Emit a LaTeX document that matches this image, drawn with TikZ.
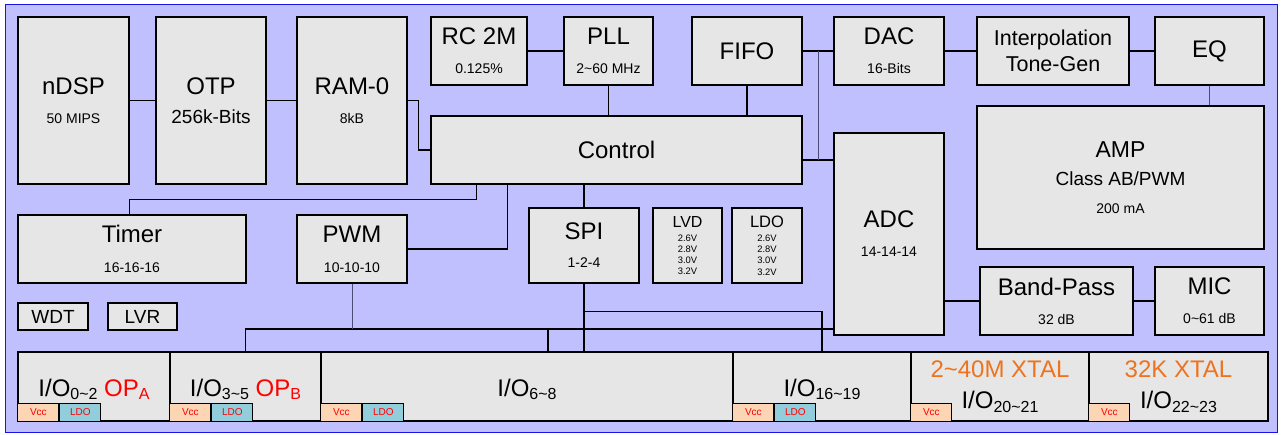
\documentclass[tikz,border=0pt]{standalone}
\usepackage{fontspec}
\setmainfont{Liberation Sans}
\usetikzlibrary{positioning,calc}
\definecolor{chipBg}{RGB}{192,192,255}
\definecolor{chipEdge}{RGB}{20,20,235}
\definecolor{blkG}{RGB}{230,230,230}
\definecolor{vccF}{RGB}{252,213,180}
\definecolor{ldoF}{RGB}{146,205,220}
\definecolor{xtalO}{RGB}{237,115,30}
\definecolor{wireG}{RGB}{75,75,115}
\newcommand\tld{\textasciitilde}
\newcommand\iosub[1]{\raisebox{-3.5pt}{\fontsize{16}{18}\selectfont #1}}
\newcommand\subt[1]{{\fontsize{14}{16}\selectfont #1}}
\newcommand\vt[1]{{\fontsize{9.4}{11}\selectfont #1}}

\begin{document}
\begin{tikzpicture}[x=1pt, y=-1pt,
  blk/.style={rectangle, draw=black, fill=blkG, line width=1.3pt,
              inner sep=0pt, align=center, font=\fontsize{24}{29}\selectfont},
  io/.style={blk, minimum height=69pt, execute at begin node={\rule{0pt}{23.5pt}}},
  volt/.style={blk, minimum height=75pt, execute at begin node={\rule{0pt}{15.5pt}}},
  pad/.style={rectangle, draw=black, line width=1pt, inner sep=0pt,
              minimum height=18pt, minimum width=41pt, text=red,
              font=\fontsize{10}{12}\selectfont},
  wire/.style={line width=1.2pt},
  wirg/.style={draw=wireG, line width=0.9pt}]
  \useasboundingbox (0,0) rectangle (1282,434);
  \draw[chipEdge, fill=chipBg, line width=1pt] (5,4) rectangle (1277,432);

  % core column
  \node[blk, minimum width=111pt, minimum height=167pt] (dsp) at (73.5,100.5) {nDSP\\\subt{50 MIPS}};
  \node[blk, minimum width=110pt, minimum height=167pt] (otp) at (211,100.5) {OTP\\{\fontsize{19}{22}\selectfont 256k-Bits}};
  \node[blk, minimum width=110pt, minimum height=167pt] (ram) at (352,100.5) {RAM-0\\\subt{8kB}};
  \node[blk, minimum width=96pt, minimum height=68pt] (rc) at (479,51) {RC 2M\\\subt{0.125\%}};
  \node[blk, minimum width=89pt, minimum height=68pt] (pll) at (608.5,51) {PLL\\\subt{2\tld60 MHz}};
  \node[blk, minimum width=110pt, minimum height=68pt] (fifo) at (747,51) {FIFO};
  \node[blk, minimum width=110pt, minimum height=68pt] (dac) at (889,51) {DAC\\\subt{16-Bits}};
  \node[blk, minimum width=152pt, minimum height=68pt, font=\fontsize{21.5}{26}\selectfont] (interp) at (1053,51) {Interpolation\\Tone-Gen};
  \node[blk, minimum width=109pt, minimum height=68pt] (eq) at (1209.5,51) {EQ};
  \node[blk, minimum width=371pt, minimum height=68pt] (ctrl) at (616.5,150) {Control};
  \node[blk, minimum width=287pt, minimum height=143pt, font=\fontsize{23}{28}\selectfont] (amp) at (1120.5,177.5)
    {AMP\\{\fontsize{19}{22}\selectfont Class AB/PWM}\\\subt{200 mA}};
  \node[blk, minimum width=110pt, minimum height=202pt] (adc) at (889,234) {ADC\\\subt{14-14-14}};

  % peripherals
  \node[blk, minimum width=228pt, minimum height=68pt] (timer) at (132,249) {Timer\\[1pt]\subt{16-16-16}};
  \node[blk, minimum width=110pt, minimum height=68pt] (pwm) at (352,249) {PWM\\[1pt]\subt{10-10-10}};
  \node[blk, minimum width=110pt, minimum height=75pt] (spi) at (584,245.5) {SPI\\[-1pt]\subt{1-2-4}};
  \node[volt, minimum width=69pt, font=\fontsize{16}{11.3}\selectfont] (lvd) at (687.5,245.5)
    {LVD\\[2.7pt]\vt{2.6V}\\\vt{2.8V}\\\vt{3.0V}\\\vt{3.2V}};
  \node[volt, minimum width=70pt, font=\fontsize{16.5}{11.3}\selectfont] (ldo) at (767,245.5)
    {LDO\\[2.7pt]\vt{2.6V}\\\vt{2.8V}\\\vt{3.0V}\\\vt{3.2V}};
  \node[blk, minimum width=153pt, minimum height=68pt] (bp) at (1056.5,301) {Band-Pass\\\subt{32 dB}};
  \node[blk, minimum width=109pt, minimum height=68pt] (mic) at (1209.5,301) {MIC\\\subt{0\tld61 dB}};
  \node[blk, minimum width=70pt, minimum height=27pt, font=\fontsize{19}{22}\selectfont] (wdt) at (53,316.5) {WDT};
  \node[blk, minimum width=69pt, minimum height=27pt, font=\fontsize{19}{22}\selectfont] (lvr) at (142.5,316.5) {LVR};

  % I/O row
  \node[io, minimum width=152pt] (io0) at (94,386.5) {I/O\iosub{0\tld2} \textcolor{red}{OP\iosub{A}}};
  \node[io, minimum width=151pt] (io3) at (245.5,386.5) {I/O\iosub{3\tld5} \textcolor{red}{OP\iosub{B}}};
  \node[io, minimum width=412pt] (io6) at (527,386.5) {I/O\iosub{6\tld8}};
  \node[io, minimum width=178pt] (io16) at (822,386.5) {I/O\iosub{16\tld19}};
  \node[io, minimum width=178pt, font=\fontsize{24}{31}\selectfont] (io20) at (1000,386.5)
    {\textcolor{xtalO}{2\tld40M XTAL}\\I/O\iosub{20\tld21}};
  \node[io, minimum width=179pt, font=\fontsize{24}{31}\selectfont] (io22) at (1178.5,386.5)
    {\textcolor{xtalO}{32K XTAL}\\I/O\iosub{22\tld23}};

  \node[pad, fill=vccF, anchor=south west] (v0) at (io0.south west) {Vcc};
  \node[pad, fill=ldoF, right=0pt of v0] (l0) {LDO};
  \node[pad, fill=vccF, anchor=south west] (v3) at (io3.south west) {Vcc};
  \node[pad, fill=ldoF, right=0pt of v3] (l3) {LDO};
  \node[pad, fill=vccF, anchor=south west] (v6) at (io6.south west) {Vcc};
  \node[pad, fill=ldoF, right=0pt of v6] (l6) {LDO};
  \node[pad, fill=vccF, anchor=south west] (v16) at (io16.south west) {Vcc};
  \node[pad, fill=ldoF, right=0pt of v16] (l16) {LDO};
  \node[pad, fill=vccF, anchor=south west] (v20) at (io20.south west) {Vcc};
  \node[pad, fill=vccF, anchor=south west] (v22) at (io22.south west) {Vcc};

  % wiring
  \draw[wire] (dsp) -- (otp);
  \draw[wire] (otp) -- (ram);
  \draw[wire] (ram.east) -- ++(11,0) |- (ctrl.west);
  \draw[wire] (rc) -- (pll);
  \draw[wire] (pll) -- (pll |- ctrl.north);
  \draw[wire] (fifo) -- (fifo |- ctrl.north);
  \draw[wire] (fifo) -- (dac);
  \draw[wire] (dac) -- (interp);
  \draw[wire] (interp) -- (eq);
  \draw[wirg] (eq) -- (eq |- amp.north);
  \coordinate (jn) at (818,160);
  \draw[wire] (ctrl.east |- jn) -- (adc.west |- jn);
  \draw[wirg] (jn) -- (jn |- dac.west);
  \draw[wire] (adc.east |- bp) -- (bp);
  \draw[wire] (bp) -- (mic);
  \draw[wire] ([xshift=46pt]ctrl.south west) -- ++(0,15) -| (timer.north -| dsp.east);
  \draw[wire] (pwm.east) -| ([xshift=77pt]ctrl.south west);
  \draw[wire] (spi) -- (spi |- ctrl.south);
  \draw[wire] (spi) -- (spi |- io6.north);
  \draw[wire] ([yshift=-28pt]spi.south) -| (io16.north);
  \coordinate (bus) at (548,329);
  \draw[wire] (io3.north) |- (bus -| adc.west);
  \draw[wire] (bus) -- (bus |- io6.north);
  \draw[wirg] (pwm) -- (pwm |- bus);
\end{tikzpicture}
\end{document}
